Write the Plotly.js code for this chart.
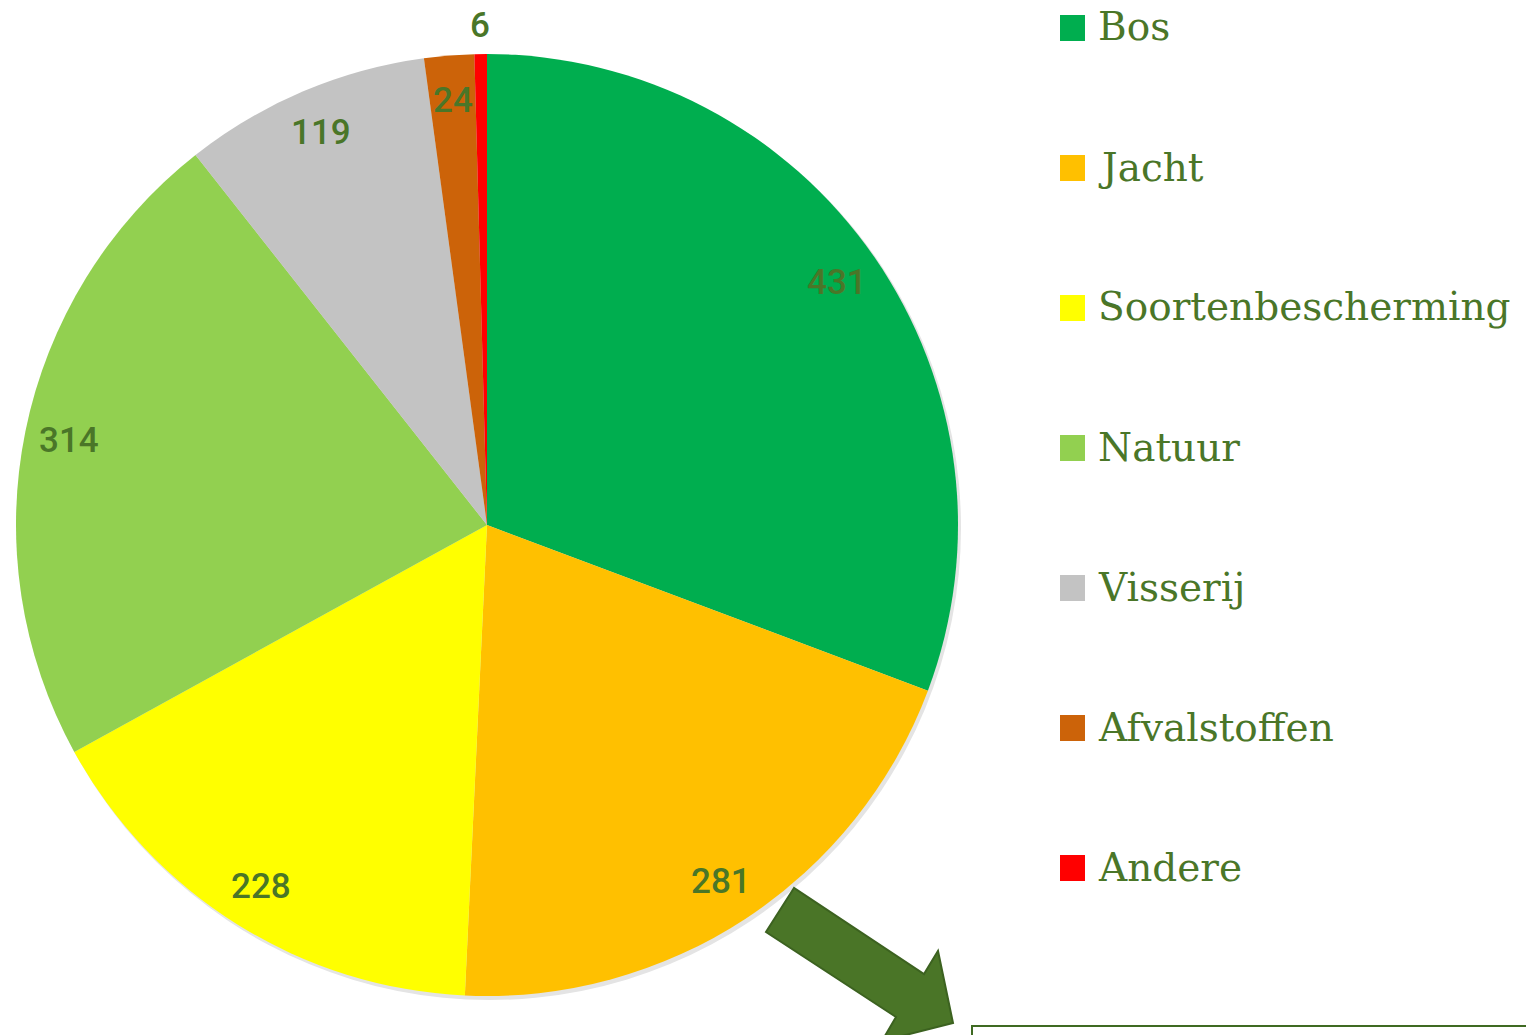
<!DOCTYPE html>
<html>
<head>
<meta charset="utf-8">
<script src="https://cdn.plot.ly/plotly-3.0.1.min.js"></script>
<style>
html, body { margin: 0; padding: 0; background: #ffffff; }
#chart { width: 1526px; height: 1035px; }
</style>
</head>
<body>
<div id="chart"></div>
<script>
// ---- data ----
const categories = ["Bos", "Jacht", "Soortenbescherming", "Natuur", "Visserij", "Afvalstoffen", "Andere"];
const values = [431, 281, 228, 314, 119, 24, 6];
const colors = ["#00AE4F", "#FFC000", "#FFFF00", "#92D050", "#C3C3C3", "#CC6309", "#FF0000"];

// ---- layout geometry (pixels) ----
const W = 1526, H = 1035;
const CX = 487, CY = 525, R = 471;
const textColor = "#4A7628";
const px = x => x / W;
const py = y => 1 - y / H;

const pie = {
  type: "pie",
  labels: categories,
  values: values,
  sort: false,
  direction: "clockwise",
  rotation: 0,
  marker: { colors: colors, line: { width: 0 } },
  textinfo: "none",
  hoverinfo: "label+value",
  showlegend: false,
  domain: { x: [px(CX - R), px(CX + R)], y: [py(CY + R), py(CY - R)] }
};

// value labels placed by angle computed from the data
const total = values.reduce((a, b) => a + b, 0);
const annotations = [];
let cum = 0;
values.forEach((v, i) => {
  const mid = (cum + v / 2) / total * 2 * Math.PI;
  cum += v;
  const frac = v / total;
  const rr = frac < 0.01 ? 1.06 * R : 0.905 * R;
  annotations.push({
    xref: "paper", yref: "paper",
    x: px(CX + rr * Math.sin(mid)), y: py(CY - rr * Math.cos(mid)),
    text: String(v), showarrow: false,
    xanchor: "center", yanchor: "middle",
    font: { family: "Roboto, sans-serif", size: 35, weight: 500, color: textColor }
  });
});

// custom legend (large squares, wide spacing as in the reference)
const shapes = [];
// soft shadow behind the pie
shapes.push({
  type: "circle", xref: "paper", yref: "paper", layer: "below",
  x0: px(CX - R + 2), x1: px(CX + R + 3), y0: py(CY + R + 4), y1: py(CY - R + 2),
  fillcolor: "#E4E4E4", line: { width: 0 }
});
categories.forEach((c, i) => {
  const yc = 28 + i * 140;
  shapes.push({
    type: "rect", xref: "paper", yref: "paper",
    x0: px(1060), x1: px(1085), y0: py(yc + 13), y1: py(yc - 13),
    fillcolor: colors[i], line: { width: 0 }
  });
  annotations.push({
    xref: "paper", yref: "paper", x: px(1096), y: py(yc - 1),
    text: c, showarrow: false, xanchor: "left", yanchor: "middle",
    font: { family: "DejaVu Serif, serif", size: 39, color: textColor }
  });
});

// block arrow
const arrowPts = [[794, 888], [766, 932], [896, 1017], [882, 1041], [953, 1023], [938, 951], [924, 974]];
shapes.push({
  type: "path", xref: "paper", yref: "paper",
  path: "M " + arrowPts.map(p => px(p[0]) + "," + py(p[1])).join(" L ") + " Z",
  fillcolor: "#4A7527", line: { color: "#3C6220", width: 2 }
});
// box at bottom right
shapes.push({
  type: "rect", xref: "paper", yref: "paper",
  x0: px(972), x1: px(1540), y0: py(1050), y1: py(1026),
  fillcolor: "rgba(0,0,0,0)", line: { color: "#3F6A22", width: 2 }
});

const layout = {
  width: W, height: H,
  margin: { l: 0, r: 0, t: 0, b: 0 },
  paper_bgcolor: "#ffffff",
  showlegend: false,
  annotations: annotations,
  shapes: shapes
};

Plotly.newPlot("chart", [pie], layout, { displayModeBar: false, staticPlot: true });
</script>
</body>
</html>
